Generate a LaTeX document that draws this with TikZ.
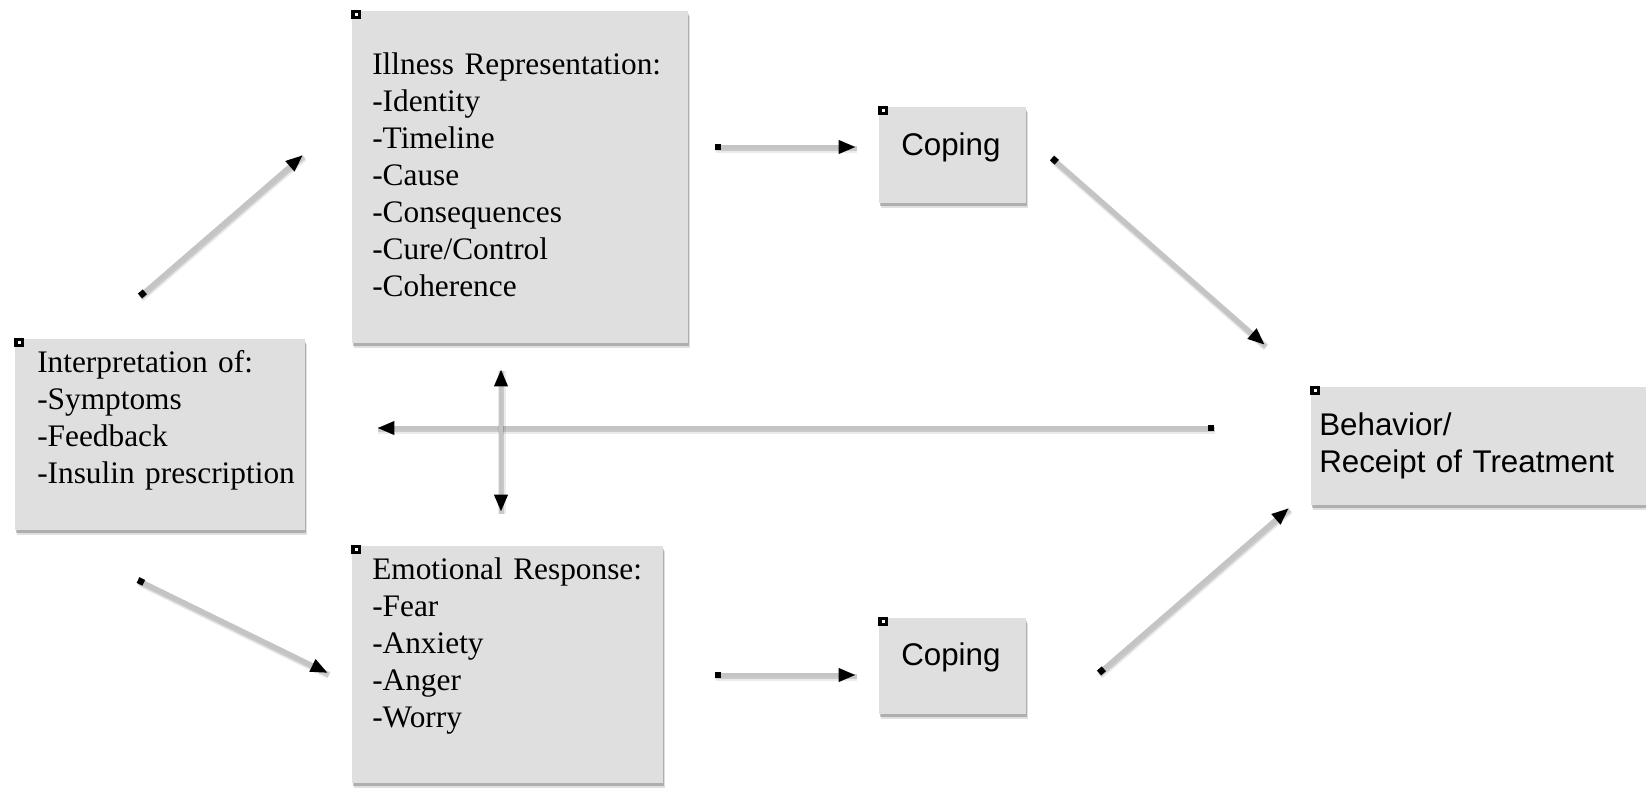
\documentclass[tikz,border=0pt]{standalone}
\usepackage{fontspec}
\setmainfont{Liberation Serif}
\setsansfont{Liberation Sans}
\usetikzlibrary{arrows.meta,shadows}
\definecolor{boxgray}{RGB}{223,223,223}
\definecolor{linegray}{RGB}{196,196,196}
\begin{document}
\begin{tikzpicture}[x=0.75pt,y=-0.75pt,
  box/.style={fill=boxgray, draw=none, anchor=north west, inner sep=0pt,
    general shadow={shadow xshift=1.2pt, shadow yshift=-3.6pt, opacity=0.12, fill=black},
    general shadow={shadow xshift=0.6pt, shadow yshift=-2.2pt, opacity=0.22, fill=black}},
  marker/.style={fill=black, draw=none, anchor=north west, inner sep=0pt,
    minimum width=7.5pt, minimum height=6.75pt,
    path picture={\fill[white] ([shift={(-1.1pt,-1.1pt)}]path picture bounding box.center) rectangle ++(2.2pt,2.2pt);}},
  serif/.style={anchor=base west, inner sep=0pt, align=left, text width=#1,
    font=\fontsize{23.5pt}{27.75pt}\selectfont},
  sans/.style={anchor=base west, inner sep=0pt, align=left, text width=#1,
    font=\sffamily\fontsize{23.5pt}{27.75pt}\selectfont},
  shade line/.style={
    preaction={-, draw=black, opacity=0.08, line width=5.6pt,
      transform canvas={xshift=0.8pt,yshift=-1.8pt}},
    preaction={-, draw=black, opacity=0.14, line width=3.8pt,
      transform canvas={xshift=0.6pt,yshift=-1.4pt}}},
  conn/.style={line width=3.4pt, draw=linegray, shade line,
    {Square[length=4.8pt,width=4.8pt,color=black]}-{Triangle[length=13pt,width=9.5pt,color=black]}},
  conn2/.style={line width=3.4pt, draw=linegray, shade line,
    {Triangle[length=13pt,width=9.5pt,color=black]}-{Triangle[length=13pt,width=9.5pt,color=black]}}
]
\useasboundingbox (0,0) rectangle (1646,790);

% boxes
\node[box, minimum width=252pt, minimum height=249pt] (illness) at (352,11) {};
\node[box, minimum width=110.25pt, minimum height=72pt] (copingA) at (879,107) {};
\node[box, minimum width=217.5pt, minimum height=143.25pt] (interp) at (15,339) {};
\node[box, minimum width=233.25pt, minimum height=177.75pt] (emotion) at (352,546) {};
\node[box, minimum width=110.25pt, minimum height=72pt] (copingB) at (879,618) {};
\node[box, minimum width=251.25pt, minimum height=88.5pt] (behavior) at (1311,387) {};

% corner markers
\node[marker] (mIll) at ([shift={(-0.75pt,0.75pt)}]illness.north west) {};
\node[marker] (mCopA) at ([shift={(-0.75pt,0.75pt)}]copingA.north west) {};
\node[marker] (mInt) at ([shift={(-0.75pt,0.75pt)}]interp.north west) {};
\node[marker] (mEmo) at ([shift={(-0.75pt,0.75pt)}]emotion.north west) {};
\node[marker] (mCopB) at ([shift={(-0.75pt,0.75pt)}]copingB.north west) {};
\node[marker] (mBeh) at ([shift={(-0.75pt,0.75pt)}]behavior.north west) {};

% texts
\node[serif=235pt] (tIll) at (372,74) {Illness Representation:\\-Identity\\-Timeline\\-Cause\\-Consequences\\-Cure/Control\\-Coherence};
\node[serif=210pt] (tInt) at (37,372) {Interpretation of:\\-Symptoms\\-Feedback\\-Insulin prescription};
\node[serif=225pt] (tEmo) at (372,579) {Emotional Response:\\-Fear\\-Anxiety\\-Anger\\-Worry};
\node[sans=100pt] (tCopA) at (901,155) {Coping};
\node[sans=100pt] (tCopB) at (901,665) {Coping};
\node[sans=240pt] (tBeh) at (1319,435) {Behavior/\\Receipt of Treatment};

% connector end points
\coordinate (a1s) at (140,296);
\coordinate (a1e) at (303,155);
\coordinate (a2s) at (715,147);
\coordinate (a2e) at (856,147);
\coordinate (a3s) at (1052,158);
\coordinate (a3e) at (1265,345);
\coordinate (a4s) at (1214,428);
\coordinate (a4e) at (377,428);
\coordinate (a5s) at (501,369);
\coordinate (a5e) at (501,512);
\coordinate (a6s) at (138,580);
\coordinate (a6e) at (328,673);
\coordinate (a7s) at (715,675);
\coordinate (a7e) at (856,675);
\coordinate (a8s) at (1099,673);
\coordinate (a8e) at (1289,508);

% connectors
\draw[conn] (a1s) -- (a1e);
\draw[conn] (a2s) -- (a2e);
\draw[conn] (a3s) -- (a3e);
\draw[conn] (a4s) -- (a4e);
\draw[conn2] (a5s) -- (a5e);
\draw[conn] (a6s) -- (a6e);
\draw[conn] (a7s) -- (a7e);
\draw[conn] (a8s) -- (a8e);
\end{tikzpicture}
\end{document}
